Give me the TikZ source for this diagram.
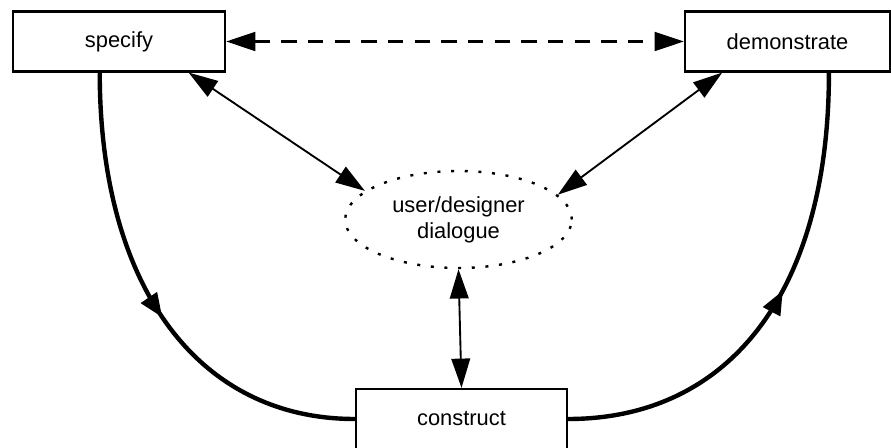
\documentclass[tikz,border=0pt]{standalone}
\usepackage{fontspec}
\setmainfont{Liberation Sans}
\usetikzlibrary{arrows.meta,shapes.geometric,decorations.markings,calc}
\begin{document}
\begin{tikzpicture}[x=0.75pt,y=-0.75pt,
  txt/.style={font=\fontsize{16.4}{19.5}\selectfont},
  box/.style={txt,draw,line width=1.6pt,rectangle,inner sep=0pt,minimum height=45pt},
  bubble/.style={txt,draw,ellipse,line width=1.8pt,dash pattern=on 2.25pt off 8pt,
    minimum width=170pt,minimum height=72.75pt,inner sep=0pt,align=center},
  bihead/.style={{Triangle[length=22pt,width=14pt]}-{Triangle[length=22pt,width=14pt]}},
  link/.style={bihead,line width=1.4pt},
  dlink/.style={bihead,line width=2.2pt,dash pattern=on 11.5pt off 8.5pt},
  flow/.style={line width=3.3pt,postaction={decorate},
    decoration={markings,mark=at position #1 with {\arrow{Triangle[length=18pt,width=14pt]}}}}
]
\useasboundingbox (0,0) rectangle (891,448);

\node[box,minimum width=159pt] (spec) at (119,41.5) {specify};
\node[box,minimum width=153.75pt] (demo) at (787.5,41.5) {demonstrate};
\node[box,minimum width=158.25pt] (con) at (461.5,419) {construct};
\node[bubble] (ell) at (458.5,219.5) {user/designer\\dialogue};

\coordinate (s1) at ($(spec.south west)!0.41!(spec.south east)$);
\coordinate (s2) at ($(spec.south west)!0.825!(spec.south east)$);
\coordinate (d1) at ($(demo.south west)!0.70!(demo.south east)$);
\coordinate (d2) at ($(demo.south west)!0.185!(demo.south east)$);

\draw[dlink] (spec.east) -- (demo.west);
\draw[link] (s2) -- (ell.163);
\draw[link] (d2) -- (ell.14);
\draw[link] (ell.south) -- (con.north);

\draw[flow=0.53] (s1) .. controls +(0,214) and +(-157,0) .. (con.west);
\draw[flow=0.54] (con.east) .. controls +(163,0) and +(0,217) .. (d1);
\end{tikzpicture}
\end{document}
